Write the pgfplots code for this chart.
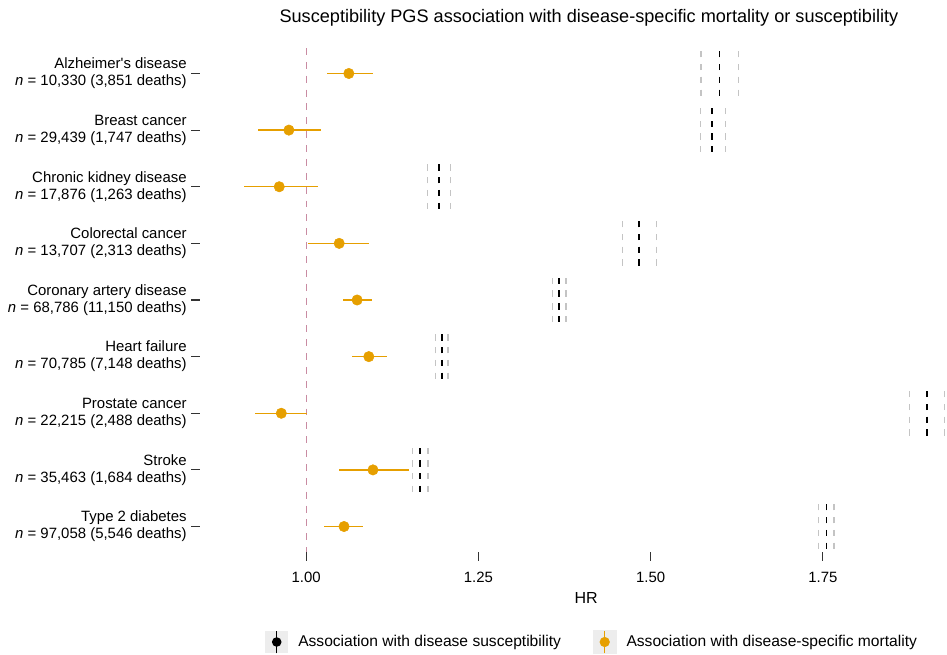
\documentclass[border=0pt]{standalone}
\usepackage{fontspec}
\setmainfont{Liberation Sans}
\usepackage{pgfplots}
\usepackage{pgfplotstable}
\pgfplotsset{compat=1.18}

\definecolor{mort}{HTML}{E69F00}
\definecolor{refpink}{HTML}{C98BA2}
\definecolor{cigrey}{HTML}{C4C4C4}
\definecolor{keybg}{HTML}{EDEDED}
\definecolor{tickgrey}{HTML}{333333}

% disease-specific mortality: HR with 95% CI
\pgfplotstableread{
row hr lo hi
1 1.062 1.030 1.097
2 0.975 0.930 1.022
3 0.961 0.910 1.017
4 1.048 1.003 1.091
5 1.074 1.054 1.095
6 1.091 1.066 1.117
7 0.964 0.926 1.002
8 1.097 1.047 1.150
9 1.055 1.026 1.083
}\mortality

% disease susceptibility: HR with 95% CI
\pgfplotstableread{
row hr lo hi
1 1.600 1.573 1.627
2 1.589 1.572 1.608
3 1.193 1.176 1.209
4 1.483 1.459 1.508
5 1.367 1.357 1.377
6 1.197 1.188 1.206
7 1.901 1.876 1.926
8 1.165 1.154 1.177
9 1.755 1.744 1.766
}\suscept

\begin{document}
\begin{tikzpicture}[font=\fontsize{11.2}{12.75}\selectfont]
\begin{axis}[
    at={(0,0)}, anchor=south west,
    scale only axis,
    width=560.25pt, height=378pt,
    xmin=0.846, xmax=1.930,
    ymin=0.55, ymax=9.45,
    y dir=reverse,
    axis line style={draw=none},
    tick align=outside,
    tick pos=left,
    major tick length=6.5pt,
    tick style={tickgrey, line width=0.8pt},
    xtick={1,1.25,1.5,1.75},
    xticklabels={1.00,1.25,1.50,1.75},
    ytick={1,...,9},
    yticklabels={
        {Alzheimer\textquotesingle s disease\\\textit{n} = 10,330 (3,851 deaths)},
        {Breast cancer\\\textit{n} = 29,439 (1,747 deaths)},
        {Chronic kidney disease\\\textit{n} = 17,876 (1,263 deaths)},
        {Colorectal cancer\\\textit{n} = 13,707 (2,313 deaths)},
        {Coronary artery disease\\\textit{n} = 68,786 (11,150 deaths)},
        {Heart failure\\\textit{n} = 70,785 (7,148 deaths)},
        {Prostate cancer\\\textit{n} = 22,215 (2,488 deaths)},
        {Stroke\\\textit{n} = 35,463 (1,684 deaths)},
        {Type 2 diabetes\\\textit{n} = 97,058 (5,546 deaths)}},
    yticklabel style={align=right, text=black},
    xticklabel style={text=black, yshift=-5pt},
    xlabel={HR},
    every axis x label/.style={at={(axis description cs:0.517,0)}, anchor=base, yshift=-39pt, font=\fontsize{12}{14}\selectfont},
    title={Susceptibility PGS association with disease-specific mortality or susceptibility},
    every axis title/.style={at={(axis description cs:0.5207,1)}, anchor=base, yshift=19pt, font=\fontsize{13.6}{15}\selectfont},
    legend columns=2,
    legend style={at={(axis description cs:0.087,-0.1786)}, anchor=west,
        draw=none, fill=none, inner sep=0pt,
        font=\fontsize{11.7}{13}\selectfont,
        nodes={inner sep=0pt, anchor=west},
        /tikz/every odd column/.append style={column sep=7.5pt},
        /tikz/every even column/.append style={column sep=24pt}},
    clip=false,
]
% reference line at HR = 1
\addplot[forget plot, refpink, line width=0.8pt, dash pattern=on 5.2pt off 5.2pt]
    coordinates {(1,0.55) (1,9.45)};
% susceptibility CI bounds (bars drawn from the centre outwards)
\addplot[forget plot, draw=none, mark=none,
    error bars/.cd, y dir=both, y fixed=0.4, error mark=none,
    error bar style={draw=cigrey, line width=0.9pt, dash pattern=on 4.7pt off 4.9pt, dash phase=7.16pt}]
    table[x=lo, y=row] {\suscept};
\addplot[forget plot, draw=none, mark=none,
    error bars/.cd, y dir=both, y fixed=0.4, error mark=none,
    error bar style={draw=cigrey, line width=0.9pt, dash pattern=on 4.7pt off 4.9pt, dash phase=7.16pt}]
    table[x=hi, y=row] {\suscept};
% susceptibility estimate
\addplot[draw=none, mark=none,
    legend image code/.code={
        \fill[keybg] (0pt,-8.6pt) rectangle (17.25pt,8.6pt);
        \draw[black, line width=1pt] (8.6pt,-8.6pt) -- (8.6pt,8.6pt);
        \fill[black] (8.6pt,0pt) circle (3.6pt);},
    error bars/.cd, y dir=both, y fixed=0.4, error mark=none,
    error bar style={draw=black, line width=1.1pt, dash pattern=on 4.7pt off 4.9pt, dash phase=7.16pt}]
    table[x=hr, y=row] {\suscept};
\addlegendentry{Association with disease susceptibility}
% mortality estimate with CI
\addplot[only marks, mark=*, mark size=3.9pt, mort,
    legend image code/.code={
        \fill[keybg] (0pt,-8.6pt) rectangle (17.25pt,8.6pt);
        \draw[mort, line width=1pt] (8.6pt,-8.6pt) -- (8.6pt,8.6pt);
        \fill[mort] (8.6pt,0pt) circle (3.6pt);},
    error bars/.cd, x dir=both, x explicit, error mark=none,
    error bar style={mort, line width=1pt}]
    table[x=hr, y=row,
        x error plus expr=\thisrow{hi}-\thisrow{hr},
        x error minus expr=\thisrow{hr}-\thisrow{lo}] {\mortality};
\addlegendentry{Association with disease-specific mortality}
\end{axis}
\pgfresetboundingbox
\path (-150pt,-77.25pt) rectangle (560.25pt,414pt);
\end{tikzpicture}
\end{document}
